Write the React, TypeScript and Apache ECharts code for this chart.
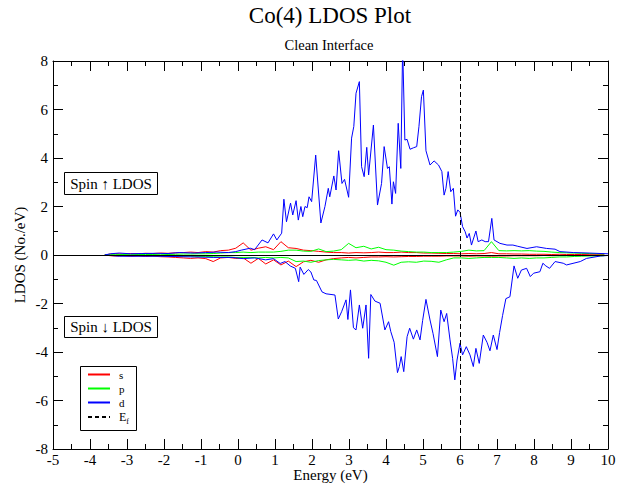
import React, { useEffect, useRef } from 'react';
import * as echarts from 'echarts';

const FONT = 'Liberation Serif';

// Energy grid for the s and p projected LDOS (eV)
const spEnergy = [
  -3.6, -3.45, -3.31, -3.11, -2.91, -2.7, -2.5, -2.3, -2.09, -1.89,
  -1.69, -1.48, -1.28, -1.08, -0.87, -0.67, -0.47, -0.26, -0.06, 0.14,
  0.35, 0.55, 0.75, 0.96, 1.16, 1.36, 1.57, 1.77, 1.97, 2.18,
  2.38, 2.58, 2.79, 2.99, 3.19, 3.4, 3.6, 3.8, 4.0, 4.21,
  4.41, 4.61, 4.82, 5.02, 5.22, 5.43, 5.63, 5.83, 6.04, 6.24,
  6.44, 6.65, 6.85, 7.05, 7.26, 7.46, 7.66, 7.87, 8.07, 8.27,
  8.48, 8.68, 8.88, 9.09, 9.29, 9.49, 9.7, 9.9,
];
const sUp = [
  0.0, 0.04, 0.05, 0.04, 0.06, 0.05, 0.07, 0.06, 0.08, 0.07,
  0.09, 0.1, 0.12, 0.1, 0.14, 0.12, 0.18, 0.2, 0.28, 0.5,
  0.2, 0.28, 0.34, 0.22, 0.55, 0.3, 0.27, 0.2, 0.18, 0.15,
  0.12, 0.1, 0.1, 0.08, 0.1, 0.09, 0.1, 0.12, 0.1, 0.1,
  0.12, 0.1, 0.1, 0.08, 0.08, 0.07, 0.06, 0.06, 0.05, 0.06,
  0.05, 0.06, 0.1, 0.05, 0.05, 0.04, 0.04, 0.03, 0.03, 0.03,
  0.02, 0.03, 0.02, 0.02, 0.02, 0.01, 0.01, 0.01,
];
const sDown = [
  0.0, -0.03, -0.04, -0.03, -0.05, -0.04, -0.06, -0.05, -0.07, -0.08,
  -0.1, -0.12, -0.14, -0.12, -0.15, -0.27, -0.12, -0.1, -0.14, -0.12,
  -0.34, -0.14, -0.37, -0.2, -0.41, -0.25, -0.48, -0.28, -0.22, -0.3,
  -0.2, -0.15, -0.12, -0.1, -0.12, -0.1, -0.08, -0.08, -0.07, -0.08,
  -0.07, -0.06, -0.06, -0.05, -0.05, -0.05, -0.04, -0.04, -0.04, -0.05,
  -0.04, -0.04, -0.05, -0.04, -0.04, -0.03, -0.03, -0.03, -0.03, -0.02,
  -0.03, -0.02, -0.02, -0.02, -0.01, -0.01, -0.01, -0.01,
];
const pUp = [
  0.0, 0.01, 0.01, 0.02, 0.01, 0.02, 0.02, 0.02, 0.03, 0.02,
  0.03, 0.04, 0.04, 0.05, 0.05, 0.06, 0.08, 0.1, 0.1, 0.12,
  0.1, 0.12, 0.12, 0.12, 0.15, 0.2, 0.2, 0.16, 0.15, 0.25,
  0.14, 0.16, 0.22, 0.48, 0.3, 0.36, 0.25, 0.32, 0.22, 0.2,
  0.16, 0.14, 0.12, 0.12, 0.1, 0.1, 0.1, 0.12, 0.15, 0.2,
  0.17, 0.18, 0.55, 0.18, 0.17, 0.18, 0.17, 0.18, 0.16, 0.15,
  0.12, 0.1, 0.09, 0.08, 0.07, 0.06, 0.05, 0.04,
];
const pDown = [
  0.0, -0.01, -0.01, -0.02, -0.01, -0.02, -0.02, -0.03, -0.03, -0.03,
  -0.04, -0.05, -0.05, -0.06, -0.06, -0.07, -0.08, -0.08, -0.1, -0.1,
  -0.1, -0.12, -0.1, -0.12, -0.1, -0.12, -0.27, -0.25, -0.3, -0.23,
  -0.2, -0.18, -0.2, -0.22, -0.2, -0.25, -0.22, -0.24, -0.3, -0.42,
  -0.3, -0.28, -0.3, -0.25, -0.26, -0.3, -0.2, -0.12, -0.12, -0.14,
  -0.12, -0.1, -0.1, -0.1, -0.12, -0.14, -0.12, -0.14, -0.12, -0.12,
  -0.1, -0.08, -0.08, -0.06, -0.05, -0.04, -0.04, -0.03,
];

// d projected LDOS, spin up
const dUpEnergy = [
  -3.6, -3.45, -3.21, -2.91, -2.6, -2.19, -1.89, -1.59, -1.18, -0.87,
  -0.57, -0.26, -0.06, 0.09, 0.33, 0.45, 0.65, 0.81, 0.96, 1.05,
  1.18, 1.24, 1.31, 1.42, 1.48, 1.57, 1.63, 1.7, 1.75, 1.81,
  1.87, 1.92, 1.99, 2.1, 2.24, 2.35, 2.44, 2.48, 2.59, 2.65,
  2.72, 2.81, 2.88, 2.99, 3.07, 3.13, 3.19, 3.28, 3.34, 3.41,
  3.48, 3.53, 3.66, 3.77, 3.88, 3.95, 4.04, 4.09, 4.16, 4.2,
  4.26, 4.33, 4.4, 4.45, 4.51, 4.57, 4.65, 4.74, 4.83, 4.89,
  4.96, 5.01, 5.08, 5.19, 5.3, 5.42, 5.51, 5.57, 5.62, 5.68,
  5.75, 5.82, 5.88, 5.94, 6.0, 6.07, 6.14, 6.19, 6.25, 6.31,
  6.43, 6.49, 6.59, 6.68, 6.77, 6.86, 6.92, 7.0, 7.08, 7.27,
  7.43, 7.56, 7.81, 8.07, 8.34, 8.57, 8.7, 9.07, 9.49, 10.0,
];
const dUp = [
  0.0, 0.05, 0.08, 0.05, 0.06, 0.07, 0.06, 0.1, 0.08, 0.1,
  0.12, 0.1, 0.14, 0.2, 0.28, 0.22, 0.62, 0.5, 0.87, 0.62,
  0.9, 2.3, 1.37, 2.14, 1.65, 2.24, 1.44, 2.0, 1.58, 2.0,
  1.95, 2.4, 2.2, 4.12, 1.32, 2.0, 2.75, 2.4, 3.26, 2.68,
  4.3, 2.95, 3.12, 2.38, 4.82, 5.3, 6.67, 7.15, 3.64, 3.23,
  4.44, 3.3, 5.36, 2.06, 2.95, 4.47, 3.57, 3.64, 2.1, 3.02,
  2.54, 5.43, 3.57, 8.6, 4.74, 4.77, 4.36, 4.42, 4.47, 5.29,
  6.53, 6.8, 4.3, 3.71, 3.88, 3.71, 3.44, 2.47, 2.75, 3.44,
  2.61, 2.75, 1.6, 1.86, 1.76, 1.17, 0.96, 0.7, 0.89, 0.41,
  0.99, 0.55, 0.62, 0.55, 0.55, 1.51, 0.62, 0.55, 0.48, 0.41,
  0.41, 0.36, 0.27, 0.34, 0.27, 0.24, 0.14, 0.1, 0.08, 0.05,
];

// d projected LDOS, spin down
const dDownEnergy = [
  -3.6, -3.21, -2.19, -1.18, -0.67, -0.16, 0.14, 0.45, 0.75, 0.96,
  1.14, 1.27, 1.41, 1.55, 1.64, 1.68, 1.78, 1.9, 1.97, 2.05,
  2.12, 2.27, 2.38, 2.62, 2.71, 2.8, 2.92, 2.97, 3.04, 3.12,
  3.19, 3.28, 3.37, 3.46, 3.53, 3.59, 3.7, 3.84, 3.97, 4.07,
  4.13, 4.22, 4.31, 4.36, 4.41, 4.48, 4.57, 4.64, 4.74, 4.83,
  4.92, 4.99, 5.08, 5.19, 5.27, 5.39, 5.48, 5.57, 5.64, 5.73,
  5.8, 5.86, 5.92, 6.0, 6.07, 6.17, 6.27, 6.36, 6.43, 6.52,
  6.63, 6.73, 6.81, 6.9, 7.0, 7.07, 7.15, 7.24, 7.35, 7.46,
  7.56, 7.66, 7.8, 7.9, 7.99, 8.16, 8.24, 8.32, 8.42, 8.57,
  8.79, 8.88, 9.25, 9.42, 9.8, 10.0,
];
const dDown = [
  0.0, -0.05, -0.05, -0.08, -0.1, -0.1, -0.15, -0.12, -0.2, -0.15,
  -0.35, -0.27, -0.45, -0.55, -1.1, -0.5, -0.8, -0.6, -0.7, -1.03,
  -1.05, -1.52, -1.6, -1.65, -2.64, -2.34, -1.85, -2.66, -1.44, -3.0,
  -3.09, -2.06, -3.02, -2.06, -4.26, -1.63, -1.9, -1.99, -3.09, -2.75,
  -3.16, -3.6, -4.85, -4.6, -4.19, -4.81, -3.37, -3.02, -3.47, -3.09,
  -3.5, -2.7, -1.83, -2.68, -3.23, -4.19, -2.27, -2.75, -2.41, -3.5,
  -4.26, -5.15, -4.33, -3.64, -4.12, -3.78, -4.12, -4.6, -3.85, -4.47,
  -3.3, -3.6, -3.95, -3.3, -3.9, -3.2, -2.5, -1.8, -1.72, -0.45,
  -0.96, -0.62, -0.55, -0.89, -0.75, -0.69, -0.34, -0.45, -0.55, -0.27,
  -0.34, -0.41, -0.27, -0.14, -0.04, -0.02,
];

const fermiEnergy = 6;
const xMin = -5, xMax = 10, xStep = 1;
const yMin = -8, yMax = 8, yStep = 2;

const pair = (xs: number[], ys: number[]) => xs.map((x, i) => [x, ys[i]]);

const lineSeries = (name: string, color: string, xs: number[], ys: number[], extra: any = {}) => ({
  name,
  type: 'line',
  data: pair(xs, ys),
  symbol: 'none',
  showSymbol: false,
  xAxisIndex: 0,
  yAxisIndex: 0,
  lineStyle: { color, width: 1 },
  itemStyle: { color },
  ...extra,
});

export default function App() {
  const ref = useRef<HTMLDivElement>(null);
  useEffect(() => {
    const chart = echarts.init(ref.current!, null, { renderer: 'svg' });
    const tick = { show: true, inside: true, length: 10, lineStyle: { color: '#000', width: 1 } };
    const minor = { show: true, splitNumber: 2, length: 5, lineStyle: { color: '#000', width: 1 } };
    const line = { show: true, onZero: false, lineStyle: { color: '#000', width: 1 } };
    const label = { color: '#000', fontFamily: FONT, fontSize: 15 };
    chart.setOption({
      animation: false,
      backgroundColor: '#fff',
      textStyle: { fontFamily: FONT },
      grid: { left: 53, right: 18, top: 61, bottom: 36, containLabel: false, outerBoundsMode: 'none' },
      xAxis: [
        {
          type: 'value', min: xMin, max: xMax, interval: xStep, position: 'bottom',
          axisLine: line, axisTick: tick, minorTick: minor, splitLine: { show: false },
          axisLabel: { ...label, margin: 3 },
          name: 'Energy (eV)', nameLocation: 'middle', nameGap: 18, nameMoveOverlap: false,
          nameTextStyle: { ...label },
        },
        {
          type: 'value', min: xMin, max: xMax, interval: xStep, position: 'top',
          axisLine: line, axisTick: tick, minorTick: minor, splitLine: { show: false },
          axisLabel: { show: false },
        },
      ],
      yAxis: [
        {
          type: 'value', min: yMin, max: yMax, interval: yStep, position: 'left',
          axisLine: line, axisTick: tick, minorTick: minor, splitLine: { show: false },
          axisLabel: { ...label, margin: 5 },
          name: 'LDOS (No./eV)', nameLocation: 'middle', nameGap: 26, nameMoveOverlap: false,
          nameTextStyle: { ...label },
        },
        {
          type: 'value', min: yMin, max: yMax, interval: yStep, position: 'right',
          axisLine: line, axisTick: tick, minorTick: minor, splitLine: { show: false },
          axisLabel: { show: false },
        },
      ],
      legend: {
        data: ['s', 'p', 'd', 'Ef'],
        orient: 'vertical',
        left: 87,
        top: 369,
        padding: 0,
        itemWidth: 22,
        itemHeight: 8,
        itemGap: 3,
        selectedMode: false,
        itemStyle: { opacity: 0 },
        textStyle: {
          color: '#000', fontFamily: FONT, fontSize: 11, padding: [0, 0, 0, 4],
          rich: {
            e: { fontFamily: FONT, fontSize: 12, color: '#000' },
            f: { fontFamily: FONT, fontSize: 8, color: '#000', padding: [8, 0, 0, 0] },
          },
        },
        formatter: (n: string) => (n === 'Ef' ? '{e|E}{f|f}' : n),
      },
      series: [
        lineSeries('s', '#ff0000', spEnergy, sUp),
        lineSeries('s', '#ff0000', spEnergy, sDown),
        lineSeries('p', '#00ff00', spEnergy, pUp),
        lineSeries('p', '#00ff00', spEnergy, pDown),
        lineSeries('d', '#0000ff', dUpEnergy, dUp),
        lineSeries('d', '#0000ff', dDownEnergy, dDown, {
          markLine: {
            silent: true, symbol: ['none', 'none'], label: { show: false },
            lineStyle: { color: '#000', type: 'solid', width: 1 },
            data: [{ yAxis: 0 }],
          },
        }),
        {
          name: 'Ef', type: 'line', data: [], symbol: 'none', showSymbol: false,
          lineStyle: { color: '#000', width: 1, type: [4, 3] },
          itemStyle: { color: '#000' },
          markLine: {
            silent: true, symbol: ['none', 'none'], label: { show: false },
            lineStyle: { color: '#000', type: [5, 3], width: 1 },
            data: [{ xAxis: fermiEnergy }],
          },
        },
      ],
      graphic: [
        { type: 'text', x: 330, y: 4, style: { text: 'Co(4) LDOS Plot', fontFamily: FONT, fontSize: 23, fill: '#000', align: 'center', verticalAlign: 'top' } },
        { type: 'text', x: 329, y: 37, style: { text: 'Clean Interface', fontFamily: FONT, fontSize: 14.5, fill: '#000', align: 'center', verticalAlign: 'top' } },
        { type: 'rect', shape: { x: 64.5, y: 172.5, width: 93, height: 22 }, style: { fill: '#fff', stroke: '#000', lineWidth: 1 }, z: 10 },
        { type: 'text', x: 111, y: 184, style: { text: 'Spin \u2191 LDOS', fontFamily: FONT, fontSize: 15, fill: '#000', align: 'center', verticalAlign: 'middle' }, z: 11 },
        { type: 'rect', shape: { x: 64.5, y: 316.5, width: 93, height: 21 }, style: { fill: '#fff', stroke: '#000', lineWidth: 1 }, z: 10 },
        { type: 'text', x: 111, y: 327, style: { text: 'Spin \u2193 LDOS', fontFamily: FONT, fontSize: 15, fill: '#000', align: 'center', verticalAlign: 'middle' }, z: 11 },
        { type: 'rect', shape: { x: 80.5, y: 366.5, width: 56, height: 64 }, style: { fill: 'none', stroke: '#000', lineWidth: 1 }, z: 10 },
      ],
    });
    return () => chart.dispose();
  }, []);
  return <div ref={ref} style={{ position: 'absolute', left: 0, top: 0, width: 626, height: 485 }} />;
}
